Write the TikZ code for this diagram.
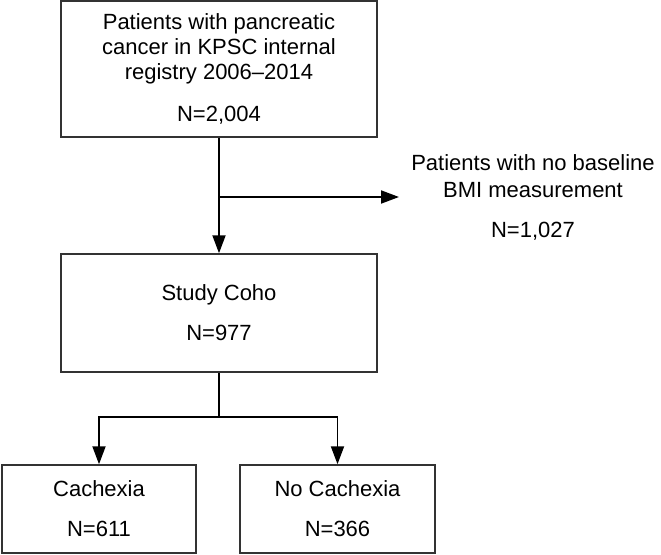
\documentclass[tikz,border=0pt]{standalone}
\usepackage{fontspec}
\setmainfont{Liberation Sans}
\usetikzlibrary{arrows.meta}
\begin{document}
\begin{tikzpicture}[x=1pt,y=-1pt,
  box/.style={draw=black!80, line width=1.5pt, inner sep=0pt, align=center,
    font=\fontsize{22}{25}\selectfont},
  txt/.style={inner sep=0pt, align=center, font=\fontsize{22}{25}\selectfont},
  conn/.style={line width=1.9pt, black, -{Triangle[length=18pt,width=13pt]}},
  plain/.style={line width=1.9pt, black}]
\useasboundingbox (0,0) rectangle (661,554);
\node[box, minimum width=316pt, minimum height=136pt] (top) at (219,69)
  {Patients with pancreatic\\cancer in KPSC internal\\registry 2006–2014\\[17pt]N=2,004};
\node[box, minimum width=316pt, minimum height=118pt] (mid) at (219,313)
  {Study Coho\\[15pt]N=977};
\node[box, minimum width=194pt, minimum height=88pt] (cach) at (99,509)
  {Cachexia\\[15pt]N=611};
\node[box, minimum width=195pt, minimum height=88pt] (nocach) at (337.5,509)
  {No Cachexia\\[15pt]N=366};
\node[txt] (excl) at (533,197)
  {Patients with no baseline\\[2pt]BMI measurement\\[15pt]N=1,027};
\coordinate (exctip) at (399,197);
\coordinate (split) at (219,417);
\draw[conn] (top.south) -- (mid.north);
\draw[conn] (top.south |- exctip) -- (exctip);
\draw[plain] (mid.south) -- (split);
\draw[conn] (split) -| (cach.north);
\draw[conn] (split) -| (nocach.north);
\end{tikzpicture}
\end{document}
